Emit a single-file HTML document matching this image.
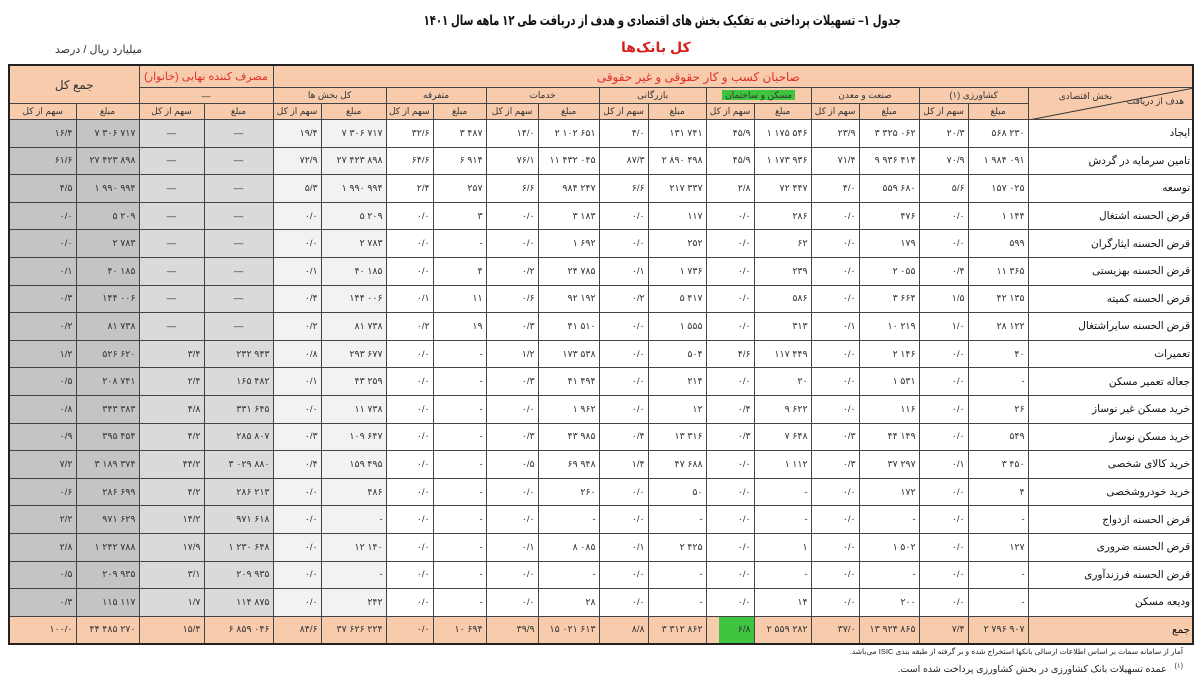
<!DOCTYPE html>
<html><head><meta charset="utf-8">
<style>
body{margin:0;width:1203px;height:683px;background:#fff;position:relative;overflow:hidden;font-family:"Liberation Sans","DejaVu Sans",sans-serif;}
.t{position:absolute;white-space:nowrap;}
table{position:absolute;left:8px;top:64px;width:1184px;border-collapse:collapse;table-layout:fixed;direction:rtl;border:2px solid #222;}
td{border:1px solid #444;padding:0 3px;font-size:9.5px;color:#333;text-align:right;height:26.6px;overflow:hidden;white-space:nowrap;direction:ltr;unicode-bidi:isolate;}
tr.h td{background:#f8cbad;text-align:center;font-size:9px;color:#333;direction:rtl;}
tr.h1 td{height:21px;}
tr.h2 td{height:15px;}
tr.h3 td{height:15px;}
td.lab{font-size:10.5px;color:#111;padding-right:2px;direction:rtl;}
.g1{background:#c4c4c4;}
.g2{background:#dadada;}
.g3{background:#f2f2f2;}
tr.tot td{background:#f8cbad;}
td.dash{text-align:center;}
.red{color:#e0302a !important;font-size:12px !important;}
</style></head><body>
<div class="t" style="right:302px;top:12px;font-size:14px;font-weight:bold;direction:rtl;color:#111;transform:scaleX(0.72);transform-origin:right center;">جدول ۱–  تسهیلات پرداختی به تفکیک بخش های اقتصادی و هدف از دریافت طی ۱۲ ماهه سال ۱۴۰۱</div>
<div class="t" style="left:621px;top:39px;font-size:14px;font-weight:bold;color:#d62020;direction:rtl;">کل بانک‌ها</div>
<div class="t" style="left:55px;top:43px;font-size:11px;color:#333;direction:rtl;">میلیارد ریال / درصد</div>

<table>
<colgroup>
<col style="width:165px"><col style="width:60px"><col style="width:49px"><col style="width:60px"><col style="width:48px"><col style="width:57px"><col style="width:48px"><col style="width:58px"><col style="width:49px"><col style="width:61px"><col style="width:52px"><col style="width:53px"><col style="width:47px"><col style="width:65px"><col style="width:48px"><col style="width:69px"><col style="width:65px"><col style="width:63px"><col style="width:67px">
</colgroup>
<tr class="h h1"><td colspan="15" style="text-align:center;padding-right:0"><span class="red" style="position:relative;left:-36px;">صاحبان کسب و کار حقوقی و غیر حقوقی</span></td><td colspan="2" style="padding:0"><span class="red" style="font-size:11px !important;">مصرف کننده نهایی (خانوار)</span></td><td colspan="2" rowspan="2" style="font-size:12px;">جمع کل</td></tr>
<tr class="h h2"><td rowspan="2" style="position:relative;padding:0;">
<svg width="165" height="32" style="position:absolute;left:0;top:0"><line x1="0" y1="32" x2="165" y2="0" stroke="#333" stroke-width="1"/></svg>
<span style="position:absolute;right:8px;top:8px;font-size:9px;">هدف از دریافت</span><span style="position:absolute;right:80px;top:3px;font-size:9px;">بخش اقتصادی</span></td>
<td colspan="2">کشاورزی (۱)</td><td colspan="2">صنعت و معدن</td><td colspan="2"><span style="background:#3ec43e;padding:0 3px;">مسکن و ساختمان</span></td><td colspan="2">بازرگانی</td><td colspan="2">خدمات</td><td colspan="2">متفرقه</td><td colspan="2">کل بخش ها</td><td colspan="2">—</td></tr>
<tr class="h h3"><td>مبلغ</td><td>سهم از کل</td><td>مبلغ</td><td>سهم از کل</td><td>مبلغ</td><td>سهم از کل</td><td>مبلغ</td><td>سهم از کل</td><td>مبلغ</td><td>سهم از کل</td><td>مبلغ</td><td>سهم از کل</td><td>مبلغ</td><td>سهم از کل</td><td>مبلغ</td><td>سهم از کل</td><td>مبلغ</td><td>سهم از کل</td></tr>

<tr><td class="lab">ایجاد</td><td>۵۶۸ ۲۳۰</td><td>۲۰/۳</td><td>۳ ۳۲۵ ۰۶۲</td><td>۲۳/۹</td><td>۱ ۱۷۵ ۵۴۶</td><td>۴۵/۹</td><td>۱۳۱ ۷۴۱</td><td>۴/۰</td><td>۲ ۱۰۲ ۶۵۱</td><td>۱۴/۰</td><td>۳ ۴۸۷</td><td>۳۲/۶</td><td class="g3">۷ ۳۰۶ ۷۱۷</td><td class="g3">۱۹/۴</td><td class="g2 dash">—</td><td class="g2 dash">—</td><td class="g1">۷ ۳۰۶ ۷۱۷</td><td class="g1">۱۶/۴</td></tr>
<tr><td class="lab">تامین سرمایه در گردش</td><td>۱ ۹۸۴ ۰۹۱</td><td>۷۰/۹</td><td>۹ ۹۳۶ ۴۱۴</td><td>۷۱/۴</td><td>۱ ۱۷۳ ۹۳۶</td><td>۴۵/۹</td><td>۲ ۸۹۰ ۴۹۸</td><td>۸۷/۳</td><td>۱۱ ۴۳۲ ۰۴۵</td><td>۷۶/۱</td><td>۶ ۹۱۴</td><td>۶۴/۶</td><td class="g3">۲۷ ۴۲۳ ۸۹۸</td><td class="g3">۷۲/۹</td><td class="g2 dash">—</td><td class="g2 dash">—</td><td class="g1">۲۷ ۴۲۳ ۸۹۸</td><td class="g1">۶۱/۶</td></tr>
<tr><td class="lab">توسعه</td><td>۱۵۷ ۰۲۵</td><td>۵/۶</td><td>۵۵۹ ۶۸۰</td><td>۴/۰</td><td>۷۲ ۴۴۷</td><td>۲/۸</td><td>۲۱۷ ۳۳۷</td><td>۶/۶</td><td>۹۸۴ ۲۴۷</td><td>۶/۶</td><td>۲۵۷</td><td>۲/۴</td><td class="g3">۱ ۹۹۰ ۹۹۴</td><td class="g3">۵/۳</td><td class="g2 dash">—</td><td class="g2 dash">—</td><td class="g1">۱ ۹۹۰ ۹۹۴</td><td class="g1">۴/۵</td></tr>
<tr><td class="lab">قرض الحسنه اشتغال</td><td>۱ ۱۴۴</td><td>۰/۰</td><td>۴۷۶</td><td>۰/۰</td><td>۲۸۶</td><td>۰/۰</td><td>۱۱۷</td><td>۰/۰</td><td>۳ ۱۸۳</td><td>۰/۰</td><td>۳</td><td>۰/۰</td><td class="g3">۵ ۲۰۹</td><td class="g3">۰/۰</td><td class="g2 dash">—</td><td class="g2 dash">—</td><td class="g1">۵ ۲۰۹</td><td class="g1">۰/۰</td></tr>
<tr><td class="lab">قرض الحسنه ایثارگران</td><td>۵۹۹</td><td>۰/۰</td><td>۱۷۹</td><td>۰/۰</td><td>۶۲</td><td>۰/۰</td><td>۲۵۲</td><td>۰/۰</td><td>۱ ۶۹۲</td><td>۰/۰</td><td>-</td><td>۰/۰</td><td class="g3">۲ ۷۸۳</td><td class="g3">۰/۰</td><td class="g2 dash">—</td><td class="g2 dash">—</td><td class="g1">۲ ۷۸۳</td><td class="g1">۰/۰</td></tr>
<tr><td class="lab">قرض الحسنه بهزیستی</td><td>۱۱ ۳۶۵</td><td>۰/۴</td><td>۲ ۰۵۵</td><td>۰/۰</td><td>۲۳۹</td><td>۰/۰</td><td>۱ ۷۳۶</td><td>۰/۱</td><td>۲۴ ۷۸۵</td><td>۰/۲</td><td>۴</td><td>۰/۰</td><td class="g3">۴۰ ۱۸۵</td><td class="g3">۰/۱</td><td class="g2 dash">—</td><td class="g2 dash">—</td><td class="g1">۴۰ ۱۸۵</td><td class="g1">۰/۱</td></tr>
<tr><td class="lab">قرض الحسنه کمیته</td><td>۴۲ ۱۳۵</td><td>۱/۵</td><td>۳ ۶۶۴</td><td>۰/۰</td><td>۵۸۶</td><td>۰/۰</td><td>۵ ۴۱۷</td><td>۰/۲</td><td>۹۲ ۱۹۲</td><td>۰/۶</td><td>۱۱</td><td>۰/۱</td><td class="g3">۱۴۴ ۰۰۶</td><td class="g3">۰/۴</td><td class="g2 dash">—</td><td class="g2 dash">—</td><td class="g1">۱۴۴ ۰۰۶</td><td class="g1">۰/۳</td></tr>
<tr><td class="lab">قرض الحسنه سایراشتغال</td><td>۲۸ ۱۲۲</td><td>۱/۰</td><td>۱۰ ۲۱۹</td><td>۰/۱</td><td>۳۱۳</td><td>۰/۰</td><td>۱ ۵۵۵</td><td>۰/۰</td><td>۴۱ ۵۱۰</td><td>۰/۳</td><td>۱۹</td><td>۰/۲</td><td class="g3">۸۱ ۷۳۸</td><td class="g3">۰/۲</td><td class="g2 dash">—</td><td class="g2 dash">—</td><td class="g1">۸۱ ۷۳۸</td><td class="g1">۰/۲</td></tr>
<tr><td class="lab">تعمیرات</td><td>۴۰</td><td>۰/۰</td><td>۲ ۱۴۶</td><td>۰/۰</td><td>۱۱۷ ۴۴۹</td><td>۴/۶</td><td>۵۰۴</td><td>۰/۰</td><td>۱۷۳ ۵۳۸</td><td>۱/۲</td><td>-</td><td>۰/۰</td><td class="g3">۲۹۳ ۶۷۷</td><td class="g3">۰/۸</td><td class="g2">۲۳۲ ۹۴۳</td><td class="g2">۳/۴</td><td class="g1">۵۲۶ ۶۲۰</td><td class="g1">۱/۲</td></tr>
<tr><td class="lab">جعاله تعمیر مسکن</td><td>-</td><td>۰/۰</td><td>۱ ۵۳۱</td><td>۰/۰</td><td>۲۰</td><td>۰/۰</td><td>۲۱۴</td><td>۰/۰</td><td>۴۱ ۴۹۴</td><td>۰/۳</td><td>-</td><td>۰/۰</td><td class="g3">۴۳ ۲۵۹</td><td class="g3">۰/۱</td><td class="g2">۱۶۵ ۴۸۲</td><td class="g2">۲/۴</td><td class="g1">۲۰۸ ۷۴۱</td><td class="g1">۰/۵</td></tr>
<tr><td class="lab">خرید مسکن غیر نوساز</td><td>۲۶</td><td>۰/۰</td><td>۱۱۶</td><td>۰/۰</td><td>۹ ۶۲۲</td><td>۰/۴</td><td>۱۲</td><td>۰/۰</td><td>۱ ۹۶۲</td><td>۰/۰</td><td>-</td><td>۰/۰</td><td class="g3">۱۱ ۷۳۸</td><td class="g3">۰/۰</td><td class="g2">۳۳۱ ۶۴۵</td><td class="g2">۴/۸</td><td class="g1">۳۴۳ ۳۸۳</td><td class="g1">۰/۸</td></tr>
<tr><td class="lab">خرید مسکن نوساز</td><td>۵۴۹</td><td>۰/۰</td><td>۴۴ ۱۴۹</td><td>۰/۳</td><td>۷ ۶۴۸</td><td>۰/۳</td><td>۱۳ ۳۱۶</td><td>۰/۴</td><td>۴۳ ۹۸۵</td><td>۰/۳</td><td>-</td><td>۰/۰</td><td class="g3">۱۰۹ ۶۴۷</td><td class="g3">۰/۳</td><td class="g2">۲۸۵ ۸۰۷</td><td class="g2">۴/۲</td><td class="g1">۳۹۵ ۴۵۴</td><td class="g1">۰/۹</td></tr>
<tr><td class="lab">خرید کالای شخصی</td><td>۳ ۴۵۰</td><td>۰/۱</td><td>۳۷ ۲۹۷</td><td>۰/۳</td><td>۱ ۱۱۲</td><td>۰/۰</td><td>۴۷ ۶۸۸</td><td>۱/۴</td><td>۶۹ ۹۴۸</td><td>۰/۵</td><td>-</td><td>۰/۰</td><td class="g3">۱۵۹ ۴۹۵</td><td class="g3">۰/۴</td><td class="g2">۳ ۰۲۹ ۸۸۰</td><td class="g2">۴۴/۲</td><td class="g1">۳ ۱۸۹ ۳۷۴</td><td class="g1">۷/۲</td></tr>
<tr><td class="lab">خرید خودروشخصی</td><td>۴</td><td>۰/۰</td><td>۱۷۲</td><td>۰/۰</td><td>-</td><td>۰/۰</td><td>۵۰</td><td>۰/۰</td><td>۲۶۰</td><td>۰/۰</td><td>-</td><td>۰/۰</td><td class="g3">۴۸۶</td><td class="g3">۰/۰</td><td class="g2">۲۸۶ ۲۱۳</td><td class="g2">۴/۲</td><td class="g1">۲۸۶ ۶۹۹</td><td class="g1">۰/۶</td></tr>
<tr><td class="lab">قرض الحسنه ازدواج</td><td>-</td><td>۰/۰</td><td>-</td><td>۰/۰</td><td>-</td><td>۰/۰</td><td>-</td><td>۰/۰</td><td>-</td><td>۰/۰</td><td>-</td><td>۰/۰</td><td class="g3">-</td><td class="g3">۰/۰</td><td class="g2">۹۷۱ ۶۱۸</td><td class="g2">۱۴/۲</td><td class="g1">۹۷۱ ۶۲۹</td><td class="g1">۲/۲</td></tr>
<tr><td class="lab">قرض الحسنه ضروری</td><td>۱۲۷</td><td>۰/۰</td><td>۱ ۵۰۲</td><td>۰/۰</td><td>۱</td><td>۰/۰</td><td>۲ ۴۲۵</td><td>۰/۱</td><td>۸ ۰۸۵</td><td>۰/۱</td><td>-</td><td>۰/۰</td><td class="g3">۱۲ ۱۴۰</td><td class="g3">۰/۰</td><td class="g2">۱ ۲۳۰ ۶۴۸</td><td class="g2">۱۷/۹</td><td class="g1">۱ ۲۴۲ ۷۸۸</td><td class="g1">۲/۸</td></tr>
<tr><td class="lab">قرض الحسنه فرزندآوری</td><td>-</td><td>۰/۰</td><td>-</td><td>۰/۰</td><td>-</td><td>۰/۰</td><td>-</td><td>۰/۰</td><td>-</td><td>۰/۰</td><td>-</td><td>۰/۰</td><td class="g3">-</td><td class="g3">۰/۰</td><td class="g2">۲۰۹ ۹۳۵</td><td class="g2">۳/۱</td><td class="g1">۲۰۹ ۹۳۵</td><td class="g1">۰/۵</td></tr>
<tr><td class="lab">ودیعه مسکن</td><td>-</td><td>۰/۰</td><td>۲۰۰</td><td>۰/۰</td><td>۱۴</td><td>۰/۰</td><td>-</td><td>۰/۰</td><td>۲۸</td><td>۰/۰</td><td>-</td><td>۰/۰</td><td class="g3">۲۴۲</td><td class="g3">۰/۰</td><td class="g2">۱۱۴ ۸۷۵</td><td class="g2">۱/۷</td><td class="g1">۱۱۵ ۱۱۷</td><td class="g1">۰/۳</td></tr>
<tr class="tot"><td class="lab">جمع</td><td>۲ ۷۹۶ ۹۰۷</td><td>۷/۴</td><td>۱۳ ۹۲۴ ۸۶۵</td><td>۳۷/۰</td><td>۲ ۵۵۹ ۲۸۲</td><td style="padding:0;"><span style="display:block;margin-left:12px;height:26px;line-height:26px;background:#3ec43e;padding-right:3px;text-align:right;">۶/۸</span></td><td>۳ ۳۱۲ ۸۶۲</td><td>۸/۸</td><td>۱۵ ۰۲۱ ۶۱۳</td><td>۳۹/۹</td><td>۱۰ ۶۹۴</td><td>۰/۰</td><td>۳۷ ۶۲۶ ۲۲۴</td><td>۸۴/۶</td><td>۶ ۸۵۹ ۰۴۶</td><td>۱۵/۴</td><td>۴۴ ۴۸۵ ۲۷۰</td><td>۱۰۰/۰</td></tr>
</table>

<div class="t" style="right:20px;top:647px;font-size:7.5px;color:#222;direction:rtl;">آمار از سامانه سمات بر اساس اطلاعات ارسالی بانکها استخراج شده و بر گرفته از طبقه بندی ISIC می‌باشد.</div>
<div class="t" style="right:20px;top:662px;font-size:9.5px;color:#222;direction:rtl;"><sup style="font-size:7px;">(۱)</sup>&nbsp;&nbsp; عمده تسهیلات بانک کشاورزی در بخش کشاورزی پرداخت شده است.</div>
</body></html>
